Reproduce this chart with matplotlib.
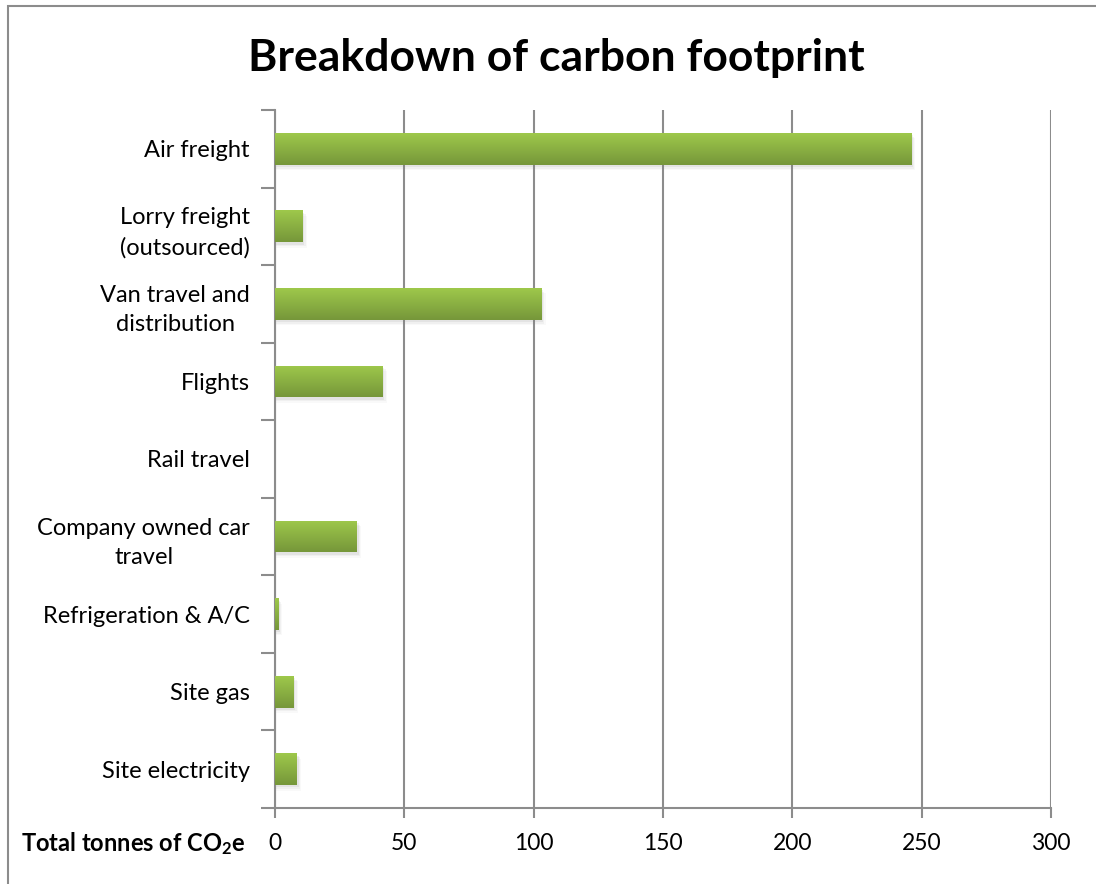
import matplotlib
matplotlib.use("Agg")
import matplotlib.pyplot as plt
import numpy as np
from matplotlib.patches import Rectangle
from matplotlib.colors import LinearSegmentedColormap

plt.rcParams['font.family'] = ['Lato', 'DejaVu Sans']
plt.rcParams['mathtext.fontset'] = 'custom'
plt.rcParams['mathtext.rm'] = 'Lato'
plt.rcParams['mathtext.bf'] = 'Lato:bold'

# Datos (de arriba hacia abajo)
categorias = ["Air freight", "Lorry freight\n(outsourced)", "Van travel and\ndistribution",
              "Flights", "Rail travel", "Company owned car\ntravel",
              "Refrigeration & A/C", "Site gas", "Site electricity"]
valores = [246, 10.8, 103, 41.7, 0, 31.7, 1.2, 7.3, 8.5]
xticks = [0, 50, 100, 150, 200, 250, 300]

fig = plt.figure(figsize=(10.96, 8.84), dpi=100)
ax = fig.add_axes([0.2509, 0.086, 0.7080, 0.7896])

n = len(categorias)
pos = np.arange(n)[::-1]
alto = 0.41
gris = '#8c8c8c'

# Degradado verde de las barras
cmap = LinearSegmentedColormap.from_list('verde', ['#9ec84b', '#76973a'])
grad = np.linspace(0, 1, 64).reshape(-1, 1)
for y, v in zip(pos, valores):
    if v <= 0:
        continue
    # sombra
    for k, a in enumerate([0.10, 0.07, 0.04]):
        d = 0.03 + k * 0.02
        ax.add_patch(Rectangle((0, y - alto / 2 - d), v + 0.6 + k * 0.5, alto,
                               facecolor='#7f7f7f', edgecolor='none', alpha=a, zorder=2))
    r = Rectangle((0, y - alto / 2), v, alto, facecolor='none', edgecolor='none', zorder=3)
    ax.add_patch(r)
    im = ax.imshow(grad, cmap=cmap, aspect='auto', extent=(0, v, y - alto / 2, y + alto / 2),
                   origin='upper', zorder=3)
    im.set_clip_path(r)

ax.set_xlim(0, 300)
ax.set_ylim(-0.5, n - 0.5)
ax.set_xticks(xticks)
ax.set_xticklabels([str(t) for t in xticks], fontsize=16.5)
ax.set_yticks(pos)
ax.set_yticklabels(categorias, fontsize=17, multialignment='center', linespacing=1.5)
ax.set_yticks(np.arange(-0.5, n, 1), minor=True)
ax.tick_params(axis='y', which='major', length=0, pad=18)
ax.tick_params(axis='y', which='minor', length=10, color=gris, width=1.5)
ax.tick_params(axis='x', length=7, color=gris, width=1.5, pad=11)

ax.grid(axis='x', color=gris, linewidth=1.5, zorder=1)
ax.set_axisbelow(True)
for s in ['top', 'right']:
    ax.spines[s].set_visible(False)
for s in ['left', 'bottom']:
    ax.spines[s].set_color(gris)
    ax.spines[s].set_linewidth(1.5)

fig.text(0.5075, 0.934, "Breakdown of carbon footprint", ha='center', va='center',
         fontsize=32, fontweight='bold')
fig.text(0.224, 0.046, r"Total tonnes of CO$\mathbf{_2}$e", ha='right', va='center',
         fontsize=17, fontweight='bold')

# Marco del gráfico
fig.patches.append(Rectangle((0.0073, -0.05), 1.1, 1.043, transform=fig.transFigure,
                             facecolor='none', edgecolor=gris, linewidth=1.5))

fig.savefig("out.png", dpi=100)
